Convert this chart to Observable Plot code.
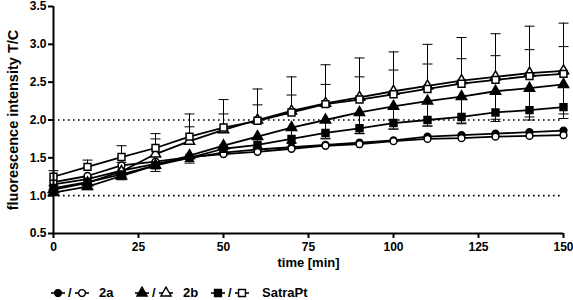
<!DOCTYPE html>
<html>
<head>
<meta charset="utf-8">
<script src="https://cdn.jsdelivr.net/npm/d3@7"></script>
<script src="https://cdn.jsdelivr.net/npm/@observablehq/plot@0.6"></script>
<style>
  body { margin: 0; background: #fff; font-family: "Liberation Sans", Arial, sans-serif; }
  #legend { position: relative; width: 573px; height: 28px; font-weight: bold; font-size: 13px; color: #000; }
  #legend .item { position: absolute; top: 13px; height: 16px; }
  #legend span { position: absolute; top: 13px; line-height: 16px; }
</style>
</head>
<body>
<div id="chart"></div>
<div id="legend"></div>
<script>
// ---- data ----
const time = [0, 10, 20, 30, 40, 50, 60, 70, 80, 90, 100, 110, 120, 130, 140, 150];
const xTicks = [0, 25, 50, 75, 100, 125, 150];
const yTicks = [0.5, 1.0, 1.5, 2.0, 2.5, 3.0, 3.5];
const refLines = [1.0, 2.0];

const a2Filled  = [1.15, 1.22, 1.33, 1.42, 1.50, 1.57, 1.61, 1.64, 1.67, 1.70, 1.73, 1.78, 1.80, 1.82, 1.84, 1.86];
const a2Open    = [1.18, 1.26, 1.40, 1.45, 1.51, 1.55, 1.58, 1.62, 1.66, 1.68, 1.72, 1.75, 1.76, 1.78, 1.79, 1.80];
const b2Filled  = [1.04, 1.12, 1.26, 1.40, 1.53, 1.66, 1.78, 1.90, 2.00, 2.10, 2.18, 2.25, 2.31, 2.38, 2.42, 2.47];
const b2Open    = [1.08, 1.17, 1.32, 1.55, 1.72, 1.87, 2.00, 2.12, 2.22, 2.30, 2.38, 2.45, 2.52, 2.57, 2.62, 2.65];
const satFilled = [1.10, 1.18, 1.28, 1.40, 1.50, 1.62, 1.67, 1.75, 1.83, 1.89, 1.96, 2.00, 2.04, 2.10, 2.13, 2.17];
const satOpen   = [1.25, 1.38, 1.51, 1.63, 1.78, 1.90, 1.99, 2.10, 2.21, 2.27, 2.34, 2.41, 2.48, 2.53, 2.58, 2.61];

// error bars (upper for open symbols, lower for filled ones)
const satOpenErr   = [0.08, 0.09, 0.15, 0.19, 0.30, 0.37, 0.42, 0.47, 0.52, 0.55, 0.56, 0.59, 0.61, 0.61, 0.66, 0.67];
const b2OpenErr    = [0.05, 0.08, 0.12, 0.20, 0.19, 0.21, 0.20, 0.21, 0.25, 0.27, 0.28, 0.29, 0.29, 0.28, 0.31, 0.32];
const b2FilledErr  = [0.03, 0.04, 0.05, 0.08, 0.10, 0.12, 0.15, 0.20, 0.25, 0.28, 0.30, 0.33, 0.36, 0.40, 0.42, 0.45];
const satFilledErr = [0.02, 0.03, 0.03, 0.04, 0.05, 0.05, 0.06, 0.06, 0.07, 0.07, 0.08, 0.08, 0.08, 0.09, 0.09, 0.09];

// ---- build tables ----
const seriesDefs = [
  {key: "a2F", vals: a2Filled,  symbol: "circle",   fill: "black", r: 3.4},
  {key: "a2O", vals: a2Open,    symbol: "circle",   fill: "white", r: 3.4},
  {key: "b2F", vals: b2Filled,  symbol: "triangle", fill: "black", r: 3.8},
  {key: "b2O", vals: b2Open,    symbol: "triangle", fill: "white", r: 3.8},
  {key: "sF",  vals: satFilled, symbol: "square",   fill: "black", r: 3.9},
  {key: "sO",  vals: satOpen,   symbol: "square",   fill: "white", r: 3.9}
];
const rows = s => time.map((t, i) => ({t, v: s.vals[i], key: s.key}));

const errDefs = [
  {vals: satOpen,   err: satOpenErr,   dir: 1},
  {vals: b2Open,    err: b2OpenErr,    dir: 1},
  {vals: b2Filled,  err: b2FilledErr,  dir: -1},
  {vals: satFilled, err: satFilledErr, dir: -1}
];
const errRows = errDefs.flatMap(e => time.map((t, i) => ({t, v: e.vals[i], end: e.vals[i] + e.dir * e.err[i]})));

const capSymbol = {
  draw(ctx, size) {
    const w = Math.sqrt(size / Math.PI);
    ctx.moveTo(-w, 0);
    ctx.lineTo(w, 0);
  }
};

const marks = [
  Plot.ruleY(refLines, {stroke: "black", strokeWidth: 1.6, strokeDasharray: "1.6,3.4"}),
  Plot.ruleX(errRows, {x: "t", y1: "v", y2: "end", stroke: "black", strokeWidth: 1}),
  Plot.dot(errRows, {x: "t", y: "end", symbol: capSymbol, r: 5, stroke: "black", strokeWidth: 1, fill: "none"})
];
for (const s of seriesDefs) {
  marks.push(Plot.line(rows(s), {x: "t", y: "v", stroke: "black", strokeWidth: 1.8}));
}
for (const s of seriesDefs) {
  marks.push(Plot.dot(rows(s), {x: "t", y: "v", symbol: s.symbol, r: s.r, fill: s.fill, stroke: "black", strokeWidth: 1.5}));
}
marks.push(
  Plot.ruleX([0], {stroke: "black", strokeWidth: 2}),
  Plot.ruleY([0.5], {stroke: "black", strokeWidth: 2}),
  Plot.axisY({ticks: yTicks, tickFormat: d3.format(".1f"), tickSize: 5, tickPadding: 2, strokeWidth: 2,
              fontSize: 12, fontWeight: "bold", label: "fluorescence intensity T/C", labelAnchor: "center",
              labelArrow: "none", labelOffset: 46}),
  Plot.axisX({ticks: xTicks, tickFormat: d3.format("d"), tickSize: 5, tickPadding: 4, strokeWidth: 2,
              fontSize: 12, fontWeight: "bold", label: "time [min]", labelAnchor: "center",
              labelArrow: "none", labelOffset: 33})
);

const chart = Plot.plot({
  width: 573,
  height: 272,
  marginTop: 6,
  marginBottom: 39,
  marginLeft: 53,
  marginRight: 10,
  x: {domain: [0, 150]},
  y: {domain: [0.5, 3.5]},
  style: {fontFamily: "'Liberation Sans', Arial, sans-serif", fontSize: "12px", color: "black", background: "white"},
  marks
});
document.getElementById("chart").appendChild(chart);

// style axis labels (larger, bold)
chart.querySelectorAll("[aria-label='y-axis label'] text, [aria-label='x-axis label'] text").forEach(t => {
  t.setAttribute("font-weight", "bold");
});
const yl = chart.querySelector("[aria-label='y-axis label'] text");
if (yl) yl.setAttribute("font-size", "14.5");
const xl = chart.querySelector("[aria-label='x-axis label'] text");
if (xl) xl.setAttribute("font-size", "13");

// ---- legend ----
const legendItems = [
  {label: "2a", symbol: "circle", x: 51, tx: 99},
  {label: "2b", symbol: "triangle", x: 135, tx: 183},
  {label: "SatraPt", symbol: "square", x: 211, tx: 262}
];
const leg = document.getElementById("legend");
function glyph(sym, fill) {
  const size = {circle: 3.4, triangle: 3.8, square: 3.9}[sym];
  const p = d3.symbol(sym === "circle" ? d3.symbolCircle : sym === "triangle" ? d3.symbolTriangle : d3.symbolSquare, Math.PI * size * size)();
  return `<svg width="14" height="16" style="display:block"><line x1="0" x2="14" y1="8" y2="8" stroke="black" stroke-width="1.6"/>` +
         `<path d="${p}" transform="translate(7,8)" fill="${fill}" stroke="black" stroke-width="1.4"/></svg>`;
}
for (const it of legendItems) {
  const a = document.createElement("div"); a.className = "item"; a.style.left = it.x + "px"; a.innerHTML = glyph(it.symbol, "black"); leg.appendChild(a);
  const sl = document.createElement("span"); sl.style.left = (it.x + 17) + "px"; sl.textContent = "/"; leg.appendChild(sl);
  const b = document.createElement("div"); b.className = "item"; b.style.left = (it.x + 24) + "px"; b.innerHTML = glyph(it.symbol, "white"); leg.appendChild(b);
  const t = document.createElement("span"); t.style.left = it.tx + "px"; t.textContent = it.label; leg.appendChild(t);
}
</script>
</body>
</html>
